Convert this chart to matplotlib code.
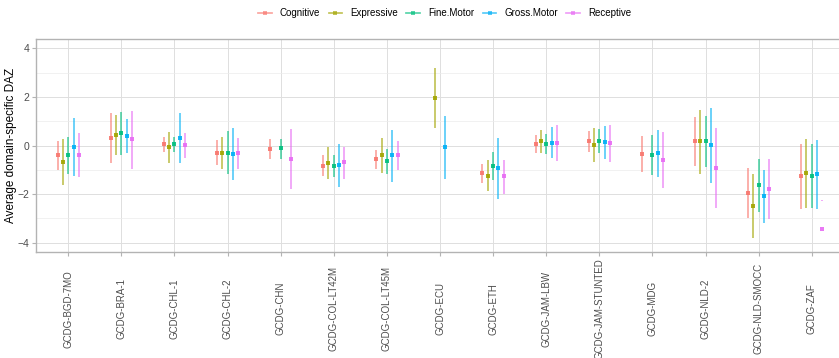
import numpy as np
import matplotlib
matplotlib.use("Agg")
import matplotlib.pyplot as plt
from matplotlib.lines import Line2D

plt.rcParams['font.family'] = ['Liberation Sans', 'DejaVu Sans']

cohorts = ["GCDG-BGD-7MO", "GCDG-BRA-1", "GCDG-CHL-1", "GCDG-CHL-2", "GCDG-CHN",
           "GCDG-COL-LT42M", "GCDG-COL-LT45M", "GCDG-ECU", "GCDG-ETH", "GCDG-JAM-LBW",
           "GCDG-JAM-STUNTED", "GCDG-MDG", "GCDG-NLD-2", "GCDG-NLD-SMOCC", "GCDG-ZAF"]
domains = ["Cognitive", "Expressive", "Fine.Motor", "Gross.Motor", "Receptive"]
colors = ["#F8766D", "#A3A500", "#00BF7D", "#00B0F6", "#E76BF3"]
nan = np.nan

# Average domain-specific DAZ per cohort
est = {
    "Cognitive":   [-0.40, 0.31, 0.05, -0.29, -0.14, -0.83, -0.56, nan, -1.15, 0.08, 0.17, -0.36, 0.17, -1.97, -1.27],
    "Expressive":  [-0.67, 0.43, -0.08, -0.32, nan, -0.71, -0.40, 1.95, -1.24, 0.19, 0.03, nan, 0.17, -2.49, -1.13],
    "Fine.Motor":  [-0.40, 0.50, 0.05, -0.29, -0.12, -0.84, -0.64, nan, -0.84, 0.06, 0.17, -0.39, 0.17, -1.63, -1.26],
    "Gross.Motor": [-0.08, 0.39, 0.29, -0.35, nan, -0.80, -0.40, -0.06, -0.94, 0.12, 0.14, -0.32, 0.02, -2.08, -1.17],
    "Receptive":   [-0.39, 0.25, 0.01, -0.31, -0.56, -0.69, -0.40, nan, -1.27, 0.10, 0.09, -0.60, -0.91, -1.79, -3.44],
}
# Lower bounds of the intervals
lower = {
    "Cognitive":   [-1.02, -0.72, -0.25, -0.82, -0.54, -1.27, -0.95, nan, -1.53, -0.31, -0.25, -1.09, -0.84, -3.00, -2.61],
    "Expressive":  [-1.61, -0.39, -0.71, -0.98, nan, -1.38, -1.12, 0.71, -1.87, -0.29, -0.67, nan, -1.16, -3.82, -2.59],
    "Fine.Motor":  [-1.19, -0.38, -0.25, -1.17, -0.54, -1.31, -1.17, nan, -1.41, -0.36, -0.32, -1.20, -0.90, -2.72, -2.59],
    "Gross.Motor": [-1.24, -0.31, -0.72, -1.42, nan, -1.71, -1.50, -1.38, -2.20, -0.51, -0.54, -1.30, -1.56, -3.18, -2.60],
    "Receptive":   [-1.31, -0.95, -0.50, -0.95, -1.78, -1.38, -1.02, nan, -1.98, -0.65, -0.68, -1.76, -2.56, -3.04, -2.30],
}
# Upper bounds of the intervals
upper = {
    "Cognitive":   [0.18, 1.34, 0.35, 0.23, 0.27, -0.39, -0.19, nan, -0.78, 0.43, 0.60, 0.38, 1.17, -0.94, 0.08],
    "Expressive":  [0.27, 1.27, 0.55, 0.35, nan, -0.07, 0.29, 3.19, -0.60, 0.64, 0.73, nan, 1.47, -1.17, 0.28],
    "Fine.Motor":  [0.35, 1.36, 0.35, 0.61, 0.27, -0.39, -0.16, nan, -0.28, 0.46, 0.67, 0.42, 1.21, -0.55, 0.05],
    "Gross.Motor": [1.12, 1.09, 1.32, 0.73, nan, 0.08, 0.65, 1.21, 0.29, 0.75, 0.80, 0.64, 1.56, -0.99, 0.23],
    "Receptive":   [0.53, 1.43, 0.51, 0.31, 0.68, -0.07, 0.17, nan, -0.60, 0.84, 0.84, 0.56, 0.71, -0.54, -2.24],
}

W, H, DPI = 839, 358, 100
fig = plt.figure(figsize=(W / DPI, H / DPI), dpi=DPI)
ax = fig.add_axes([36.4 / W, 1 - 251.7 / H, (843.6 - 36.4) / W, (251.7 - 39.3) / H])

x = np.arange(len(cohorts))
dodge = 0.1
for i, (d, c) in enumerate(zip(domains, colors)):
    xi = x + (i - 2) * dodge
    ax.vlines(xi, lower[d], upper[d], color=c, alpha=0.65, linewidth=1.25, zorder=3)
    ax.plot(xi, est[d], 's', color=c, markersize=2.8, alpha=0.9,
            markeredgewidth=0, zorder=4)

ax.set_xlim(-0.6, len(cohorts) - 0.4)
ax.set_ylim(-4.37, 4.37)
ax.set_xticks(x)
ax.set_xticklabels(cohorts, rotation=90, va='center', ha='center')
ax.set_yticks([-4, -2, 0, 2, 4])
ax.set_yticks([-3, -1, 1, 3], minor=True)
ax.tick_params(axis='x', which='major', length=3, color='#B3B3B3', pad=38,
               labelsize=7, labelcolor='#4D4D4D')
ax.tick_params(axis='y', which='major', length=3, color='#B3B3B3', pad=2,
               labelsize=7.5, labelcolor='#4D4D4D')
ax.tick_params(axis='y', which='minor', length=0)

ax.grid(True, which='major', color='#DEDEDE', linewidth=0.7, zorder=0)
ax.grid(True, which='minor', axis='y', color='#EBEBEB', linewidth=0.5, zorder=0)
ax.set_axisbelow(True)
for s in ax.spines.values():
    s.set_color('#B3B3B3')
    s.set_linewidth(1.0)

ax.set_ylabel("Average domain-specific DAZ", fontsize=8.5, color='black')
ax.yaxis.set_label_coords((17.5 - 36.4) / (843.6 - 36.4), 0.5)

handles = [Line2D([0], [0], color=c, alpha=0.65, linewidth=1.25, marker='s',
                  markersize=2.6, markerfacecolor=c, markeredgewidth=0)
           for c in colors]
fig.legend(handles, domains, loc='center', bbox_to_anchor=(444.5 / W, 1 - 13 / H),
           ncol=5, frameon=False, fontsize=7, handlelength=1.4, handletextpad=0.8,
           columnspacing=0.9)

fig.savefig("out.png", dpi=DPI)
